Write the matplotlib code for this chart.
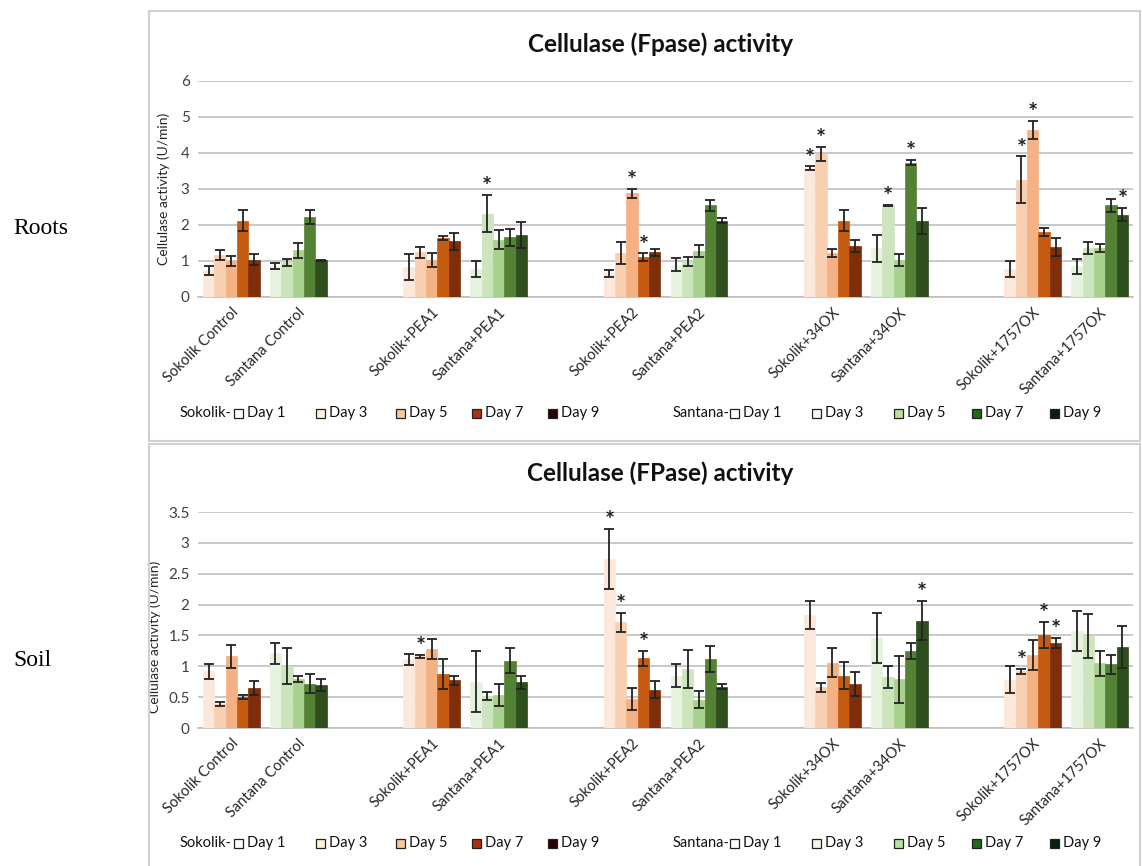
import numpy as np
import matplotlib
matplotlib.use('Agg')
import matplotlib.pyplot as plt
from matplotlib.patches import Rectangle

plt.rcParams['font.family'] = ['Lato', 'DejaVu Sans']

groups = ['Sokolik Control', 'Santana Control', 'Sokolik+PEA1', 'Santana+PEA1',
          'Sokolik+PEA2', 'Santana+PEA2', 'Sokolik+34OX', 'Santana+34OX',
          'Sokolik+1757OX', 'Santana+1757OX']
days = ['Day 1', 'Day 3', 'Day 5', 'Day 7', 'Day 9']

# Roots (U/min), rows = groups, cols = days
roots_mean = [
    [0.74, 1.17, 1.00, 2.12, 1.03],
    [0.85, 0.96, 1.29, 2.22, 1.02],
    [0.82, 1.24, 1.03, 1.63, 1.54],
    [0.78, 2.31, 1.59, 1.66, 1.71],
    [0.66, 1.22, 2.88, 1.11, 1.24],
    [0.90, 0.99, 1.28, 2.54, 2.12],
    [3.57, 3.96, 1.22, 2.12, 1.42],
    [1.35, 2.54, 1.03, 3.73, 2.10],
    [0.78, 3.25, 4.63, 1.80, 1.39],
    [0.85, 1.36, 1.36, 2.54, 2.28],
]
roots_err = [
    [0.12, 0.14, 0.15, 0.28, 0.15],
    [0.08, 0.10, 0.20, 0.20, 0.02],
    [0.36, 0.15, 0.20, 0.06, 0.24],
    [0.22, 0.52, 0.27, 0.24, 0.36],
    [0.10, 0.30, 0.12, 0.10, 0.10],
    [0.17, 0.12, 0.16, 0.16, 0.08],
    [0.05, 0.20, 0.12, 0.28, 0.17],
    [0.38, 0.02, 0.17, 0.07, 0.36],
    [0.23, 0.65, 0.25, 0.11, 0.26],
    [0.21, 0.16, 0.12, 0.19, 0.18],
]
roots_stars = [(3, 1), (4, 2), (4, 3), (6, 0), (6, 1), (7, 1), (7, 3), (8, 1), (8, 2), (9, 4)]

# Soil (U/min)
soil_mean = [
    [0.92, 0.39, 1.16, 0.50, 0.65],
    [1.21, 1.00, 0.79, 0.72, 0.70],
    [1.11, 1.16, 1.28, 0.88, 0.77],
    [0.75, 0.52, 0.54, 1.09, 0.74],
    [2.74, 1.71, 0.47, 1.13, 0.62],
    [0.85, 0.96, 0.46, 1.12, 0.67],
    [1.83, 0.66, 1.06, 0.85, 0.71],
    [1.46, 0.83, 0.79, 1.24, 1.74],
    [0.78, 0.92, 1.18, 1.51, 1.38],
    [1.57, 1.49, 1.05, 1.03, 1.32],
]
soil_err = [
    [0.12, 0.03, 0.18, 0.03, 0.11],
    [0.17, 0.29, 0.05, 0.16, 0.10],
    [0.09, 0.02, 0.16, 0.24, 0.07],
    [0.49, 0.07, 0.18, 0.20, 0.10],
    [0.49, 0.15, 0.18, 0.12, 0.14],
    [0.19, 0.31, 0.14, 0.21, 0.04],
    [0.23, 0.07, 0.23, 0.22, 0.19],
    [0.40, 0.18, 0.38, 0.13, 0.32],
    [0.22, 0.04, 0.24, 0.21, 0.08],
    [0.33, 0.36, 0.20, 0.15, 0.34],
]
soil_stars = [(2, 1), (4, 0), (4, 1), (4, 3), (7, 4), (8, 1), (8, 3), (8, 4)]

sokolik_colors = ['#FCE8DA', '#F9CFB2', '#F4B183', '#C55A11', '#7E2E08']
santana_colors = ['#E6F2DD', '#CDE5BC', '#A9D18E', '#548235', '#2E4E1E']
sokolik_legend = ['#FFFFFF', '#FFF3D6', '#F9C89B', '#A93409', '#2E0000']
santana_legend = ['#FFFFFF', '#F1F8EA', '#B9E0A2', '#1E6B1E', '#0A1F0A']

W, H = 1142, 866
fig = plt.figure(figsize=(W / 100, H / 100), dpi=100)


def px(x0, y0, x1, y1):
    return [x0 / W, 1 - y1 / H, (x1 - x0) / W, (y1 - y0) / H]


def draw_panel(ax, mean, err, stars, ymax, ystep):
    mean = np.array(mean)
    err = np.array(err)
    slots = np.array([i + i // 2 for i in range(len(groups))])
    bw = 0.17
    for g in range(len(groups)):
        cols = sokolik_colors if g % 2 == 0 else santana_colors
        xs = slots[g] + (np.arange(5) - 2) * bw
        ax.bar(xs, mean[g], width=bw, color=cols,
               edgecolor=cols, linewidth=0.5, zorder=3)
        ax.errorbar(xs, mean[g], yerr=err[g], fmt='none', ecolor='#222222',
                    elinewidth=1.3, capsize=3.5, capthick=1.3, zorder=4)
    for g, d in stars:
        x = slots[g] + (d - 2) * bw
        ax.annotate('*', (x, mean[g][d] + err[g][d]), xytext=(0, -3),
                    textcoords='offset points', ha='center', va='bottom',
                    fontsize=17, fontweight='bold', color='#222222', zorder=5)
    ax.set_xlim(-0.5, 13.5)
    ax.set_ylim(0, ymax)
    ax.set_yticks(np.arange(0, ymax + 1e-9, ystep))
    ax.set_yticklabels([f'{v:g}' for v in np.arange(0, ymax + 1e-9, ystep)],
                       fontsize=11, color='#404040')
    ax.set_xticks(slots)
    ax.set_xticklabels(groups, rotation=45, ha='right', rotation_mode='anchor',
                       fontsize=10.5, color='#262626')
    ax.tick_params(axis='both', length=0, pad=6)
    ax.grid(axis='y', color='#bfbfbf', linewidth=1.2, zorder=0)
    for s in ['top', 'right', 'left']:
        ax.spines[s].set_visible(False)
    ax.spines['bottom'].set_color('#bfbfbf')
    ax.spines['bottom'].set_linewidth(1.2)
    ax.set_axisbelow(True)


def draw_legend(y):
    def square(x, color):
        fig.patches.append(Rectangle((x / W, 1 - (y + 5) / H), 9 / W, 9 / H,
                                     transform=fig.transFigure, facecolor=color,
                                     edgecolor='#222222', linewidth=0.9))

    lf = dict(fontsize=10.5, va='center', color='#111111')
    fig.text(180 / W, 1 - y / H, 'Sokolik-', **lf)
    for x_sq, col, lab in zip([234, 316, 396, 472, 548], sokolik_legend, days):
        square(x_sq, col)
        fig.text((x_sq + 13) / W, 1 - y / H, lab, **lf)
    fig.text(673 / W, 1 - y / H, 'Santana-', **lf)
    for x_sq, col, lab in zip([730, 812, 894, 972, 1050], santana_legend, days):
        square(x_sq, col)
        fig.text((x_sq + 13) / W, 1 - y / H, lab, **lf)


# panel frames
fig.patches.append(Rectangle((149 / W, 1 - 441 / H), 991 / W, 430 / H,
                             transform=fig.transFigure, fill=False,
                             edgecolor='#d0d0d0', linewidth=1.5))
fig.patches.append(Rectangle((149 / W, 1 - 870 / H), 991 / W, 426 / H,
                             transform=fig.transFigure, fill=False,
                             edgecolor='#d0d0d0', linewidth=1.5))

ax1 = fig.add_axes(px(198, 80.7, 1133, 297))
draw_panel(ax1, roots_mean, roots_err, roots_stars, 6, 1)
ax1.set_ylabel('Cellulase activity (U/min)', fontsize=10, color='#262626', labelpad=8)
fig.text(660 / W, 1 - 44 / H, 'Cellulase (Fpase) activity', ha='center', va='center',
         fontsize=17.5, fontweight='bold', color='#111111')
draw_legend(413)

ax2 = fig.add_axes(px(198, 512, 1133, 728))
draw_panel(ax2, soil_mean, soil_err, soil_stars, 3.5, 0.5)
ax2.set_ylabel('Cellulase activity (U/min)', fontsize=10, color='#262626')
ax2.yaxis.set_label_coords(-0.04, 0.42)
fig.text(660 / W, 1 - 473 / H, 'Cellulase (FPase) activity', ha='center', va='center',
         fontsize=17.5, fontweight='bold', color='#111111')
draw_legend(843)

fig.text(13 / W, 1 - 228 / H, 'Roots', fontsize=17, va='center',
         family=['Liberation Serif', 'DejaVu Serif'])
fig.text(13 / W, 1 - 660 / H, 'Soil', fontsize=17, va='center',
         family=['Liberation Serif', 'DejaVu Serif'])

fig.savefig('out.png', dpi=100)
